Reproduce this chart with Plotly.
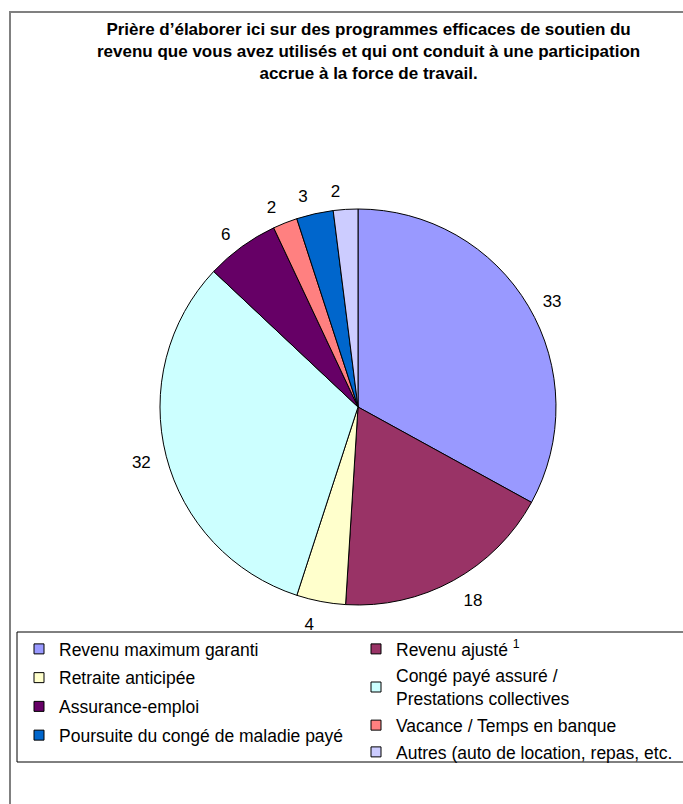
import plotly.graph_objects as go

labels = [
    "Revenu maximum garanti",
    "Revenu ajusté <sup>1</sup>",
    "Retraite anticipée",
    "Congé payé assuré /<br>Prestations collectives",
    "Assurance-emploi",
    "Vacance / Temps en banque",
    "Poursuite du congé de maladie payé",
    "Autres (auto de location, repas, etc.",
]
values = [33, 18, 4, 32, 6, 2, 3, 2]
colors = ["#9999FF", "#993366", "#FFFFCC", "#CCFFFF", "#660066", "#FF8080", "#0066CC", "#CCCCFF"]

title = ("Prière d’élaborer ici sur des programmes efficaces de soutien du<br>"
         "revenu que vous avez utilisés et qui ont conduit à une participation<br>"
         "accrue à la force de travail.")

W, H = 683, 804
FONT = "Liberation Sans, Arial, sans-serif"

def px(x):
    return x / W

def py(y):
    return 1 - y / H

CX, CY, R = 358, 407, 198   # pie centre / radius (px)
RL, CYL = 209, 410           # invisible label ring (px)

fig = go.Figure()
# visible pie (no text, legend drawn separately in two columns)
fig.add_trace(go.Pie(
    labels=labels,
    values=values,
    sort=False,
    direction="clockwise",
    rotation=0,
    marker=dict(colors=colors, line=dict(color="black", width=1)),
    textinfo="none",
    domain=dict(x=[px(CX - R), px(CX + R)], y=[py(CY + R), py(CY - R)]),
    hoverinfo="label+value",
    showlegend=False,
))

# invisible pies that carry the value labels (split into groups so that
# labels in the same quadrant are not stacked with leader lines)
groups = [[0, 1, 2, 3, 4], [5], [6], [7]]
for g in groups:
    tp = ["outside" if i in g else "none" for i in range(len(values))]
    fig.add_trace(go.Pie(
        labels=labels,
        values=values,
        sort=False,
        direction="clockwise",
        rotation=0,
        marker=dict(colors=["rgba(0,0,0,0)"] * len(values), line=dict(width=0)),
        textposition=tp,
        texttemplate="%{value}",
        textfont=dict(family=FONT, size=17, color="black"),
        domain=dict(x=[px(CX - RL), px(CX + RL)], y=[py(CYL + RL), py(CYL - RL)]),
        showlegend=False,
        hoverinfo="skip",
    ))

# legend entries (two independent columns, as in the reference)
for i, (lab, col) in enumerate(zip(labels, colors)):
    fig.add_trace(go.Scatter(
        x=[None], y=[None], mode="markers", name=lab,
        marker=dict(symbol="square", size=10, color=col, line=dict(color="black", width=1)),
        legend="legend" if i % 2 == 0 else "legend2",
        legendgroup="g%d" % i,
        hoverinfo="skip",
    ))

legend_common = dict(
    orientation="v",
    xanchor="left", yanchor="top",
    font=dict(family=FONT, size=17.5, color="black"),
    bgcolor="rgba(0,0,0,0)",
    traceorder="grouped",
)

fig.update_layout(
    width=W, height=H, autosize=False,
    margin=dict(l=0, r=0, t=0, b=0, autoexpand=False),
    paper_bgcolor="white",
    plot_bgcolor="rgba(0,0,0,0)",
    xaxis=dict(visible=False),
    yaxis=dict(visible=False),
    font=dict(family=FONT, color="black"),
    showlegend=True,
    legend=dict(legend_common, x=px(19), y=py(631), tracegroupgap=3),
    legend2=dict(legend_common, x=px(356), y=py(631), tracegroupgap=1),
    annotations=[dict(
        text="<b>" + title + "</b>", xref="paper", yref="paper",
        x=px(368), y=py(18), xanchor="center", yanchor="top",
        showarrow=False, align="center",
        font=dict(family=FONT, size=17, color="black"),
    )],
    shapes=[
        dict(type="rect", xref="paper", yref="paper",
             x0=px(10), y0=py(12), x1=px(720), y1=py(830),
             line=dict(color="#808080", width=2), fillcolor="rgba(0,0,0,0)"),
        dict(type="rect", xref="paper", yref="paper",
             x0=px(17), y0=py(632), x1=px(720), y1=py(762),
             line=dict(color="black", width=1), fillcolor="rgba(0,0,0,0)"),
    ],
)

fig.write_html("out.html")
